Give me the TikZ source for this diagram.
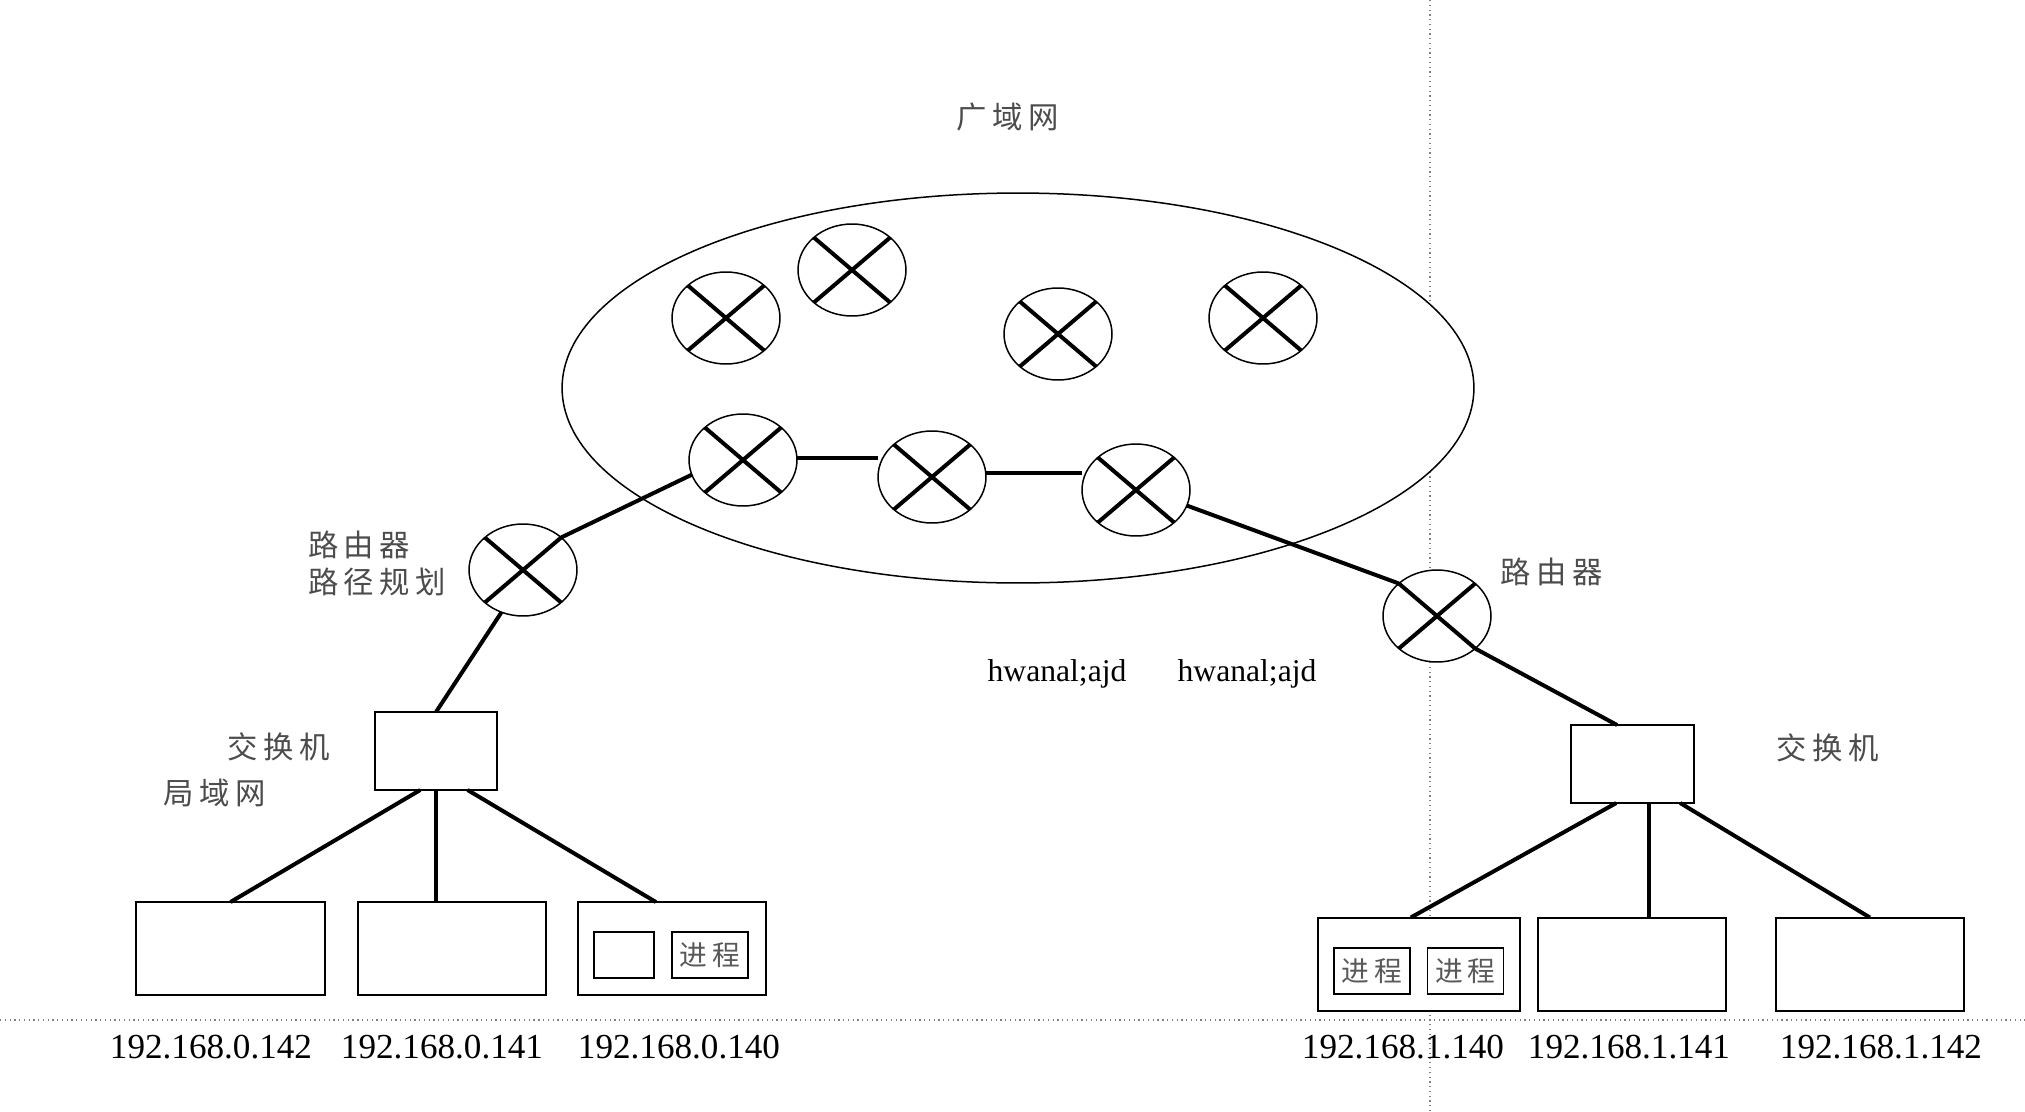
\documentclass[tikz,border=0pt]{standalone}
\usepackage{fontspec}
\setmainfont{Liberation Serif}
\newfontfamily\cjk[LetterSpace=18]{Noto Sans CJK SC}
\usepackage{xcolor}
\usetikzlibrary{positioning, shapes.geometric}
\newcommand{\ipfont}{\fontsize{20}{23}\selectfont}
\newcommand{\zhfont}{\cjk\fontsize{17.3}{21}\selectfont}
\newcommand{\procfont}{\cjk\fontsize{15.8}{19}\selectfont}

\begin{document}
\begin{tikzpicture}[
    x=0.02cm, y=-0.02cm,
    guide/.style={dotted, line width=0.025cm, gray},
    wan/.style={ellipse, draw, fill=white, line width=0.03cm, inner sep=0pt, outer sep=0pt,
                minimum width=18.24cm, minimum height=7.8cm},
    router/.style={ellipse, draw, fill=white, line width=0.03cm, inner sep=0pt, outer sep=0pt,
                   minimum width=2.16cm, minimum height=1.84cm},
    switch/.style={rectangle, draw, fill=white, line width=0.04cm, inner sep=0pt, outer sep=0pt,
                   minimum width=2.46cm, minimum height=1.56cm},
    host/.style={rectangle, draw, fill=white, line width=0.04cm, inner sep=0pt, outer sep=0pt,
                 minimum width=3.76cm, minimum height=1.86cm},
    proc/.style={rectangle, draw, fill=white, line width=0.035cm, inner sep=0pt, outer sep=0pt,
                 minimum width=1.52cm, minimum height=0.92cm, font=\procfont, text=black!65},
    link/.style={line width=0.08cm},
    zhlabel/.style={font=\zhfont, text=black!70, align=left, inner sep=0pt},
    iplabel/.style={font=\ipfont, inner sep=0pt},
    txtlabel/.style={font=\fontsize{18}{21}\selectfont, inner sep=0pt},
]
\useasboundingbox (0,0) rectangle (2025,1112);

\coordinate (vtop) at (1430,0);
\coordinate (vbot) at (1430,1112);
\coordinate (hleft) at (0,1020);
\coordinate (hright) at (2025,1020);
\draw[guide] (vtop) -- (vbot);
\draw[guide] (hleft) -- (hright);

\node[wan] (net) at (1018,388) {};
\node[router] (r1) at (726,318) {};
\node[router] (r2) at (852,270) {};
\node[router] (r3) at (1058,334) {};
\node[router] (r4) at (1263,318) {};
\node[router] (r5) at (743,460) {};
\node[router] (r6) at (932,477) {};
\node[router] (r7) at (1136,490) {};
\node[router] (rl) at (523,570) {};
\node[router] (rr) at (1437,616) {};

\node[switch] (swl) at (436,751) {};
\node[switch] (swr) at (1632,764) {};

\node[host, minimum width=3.78cm] (ha) at (230.5,948.5) {};
\node[host, right=0.66cm of ha] (hb) {};
\node[host, right=0.64cm of hb] (hc) {};
\node[host, minimum width=4.06cm] (hd) at (1419,964) {};
\node[host, right=0.35cm of hd] (he) {};
\node[host, right=1cm of he] (hf) {};

\node[proc, minimum width=1.2cm] (pa) at (624,955) {};
\node[proc, right=0.36cm of pa] (pb) {进程};
\node[proc] (pc) at (1372,971) {进程};
\node[proc, right=0.35cm of pc] (pd) {进程};

\foreach \r in {r1,r2,r3,r4,r5,r6,r7,rl,rr} {
    \draw[link] (\r.north west) -- (\r.south east);
    \draw[link] (\r.north east) -- (\r.south west);
}

\draw[link] (r5.2) -- (r5.2 -| r6.west);
\draw[link] (r6.4) -- (r6.4 -| r7.west);
\draw[link] (r5.196) -- (rl.north east);
\draw[link] (r7.-17) -- (rr.north west);
\draw[link] (rl.-117) -- (swl.north);
\draw[link] (rr.south east) -- (swr.111);

\draw[link] (swl.-112) -- (ha.north);
\draw[link] (swl.south) -- (swl.south |- hb.north);
\draw[link] (swl.-51) -- (hc.109);
\draw[link] (swr.-112) -- (hd.100);
\draw[link] (swr.-67) -- (swr.-67 |- he.north);
\draw[link] (swr.-39) -- (hf.north);

\node[zhlabel] (lwan) at (1008,117) {广域网};
\node[zhlabel] (lrl) at (377,563) {路由器\\路径规划};
\node[zhlabel] (lrr) at (1552,572) {路由器};
\node[zhlabel] (lswl) at (279,747) {交换机};
\node[zhlabel] (llan) at (215,793) {局域网};
\node[zhlabel] (lswr) at (1828,748) {交换机};

\node[iplabel] (ipa) at (211,1047) {192.168.0.142};
\node[iplabel] (ipb) at (442,1047) {192.168.0.141};
\node[iplabel] (ipc) at (679,1047) {192.168.0.140};
\node[iplabel] (ipd) at (1403,1047) {192.168.1.140};
\node[iplabel] (ipe) at (1629,1047) {192.168.1.141};
\node[iplabel] (ipf) at (1881,1047) {192.168.1.142};

\node[txtlabel] (ta) at (1057,674) {hwanal;ajd};
\node[txtlabel] (tb) at (1247,674) {hwanal;ajd};
\end{tikzpicture}
\end{document}
